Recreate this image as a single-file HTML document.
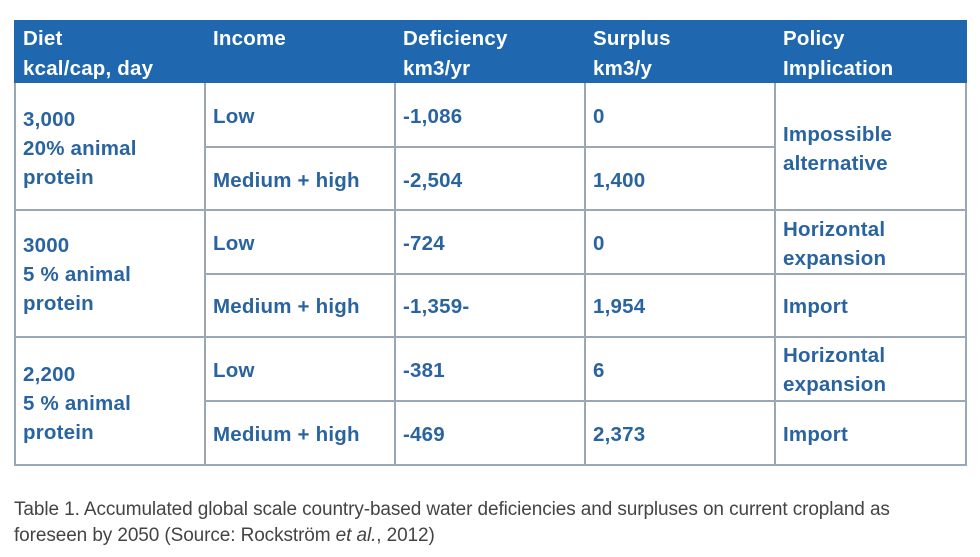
<!DOCTYPE html>
<html><head><style>
body{margin:0;width:980px;height:557px;background:#fff;font-family:"Liberation Sans",sans-serif;position:relative;overflow:hidden}
.hdr{position:absolute;left:14px;top:20px;width:953px;height:63px;background:#1f67ae}
.t{position:absolute;font-weight:bold;font-size:20.5px;line-height:29px;color:#2a64a0;letter-spacing:0.2px}
.h{color:#fff;line-height:30px}
.v{position:absolute;width:2px;background:#9aa8b5}
.hl{position:absolute;height:2px;background:#9aa8b5}
.cap{position:absolute;left:14px;top:497px;font-size:19px;line-height:26px;color:#444;letter-spacing:-0.1px}
</style></head><body>
<div class="hdr"></div>
<div class="v" style="left:14px;top:83px;height:383px"></div>
<div class="v" style="left:965px;top:83px;height:383px"></div>
<div class="v" style="left:204px;top:83px;height:383px"></div>
<div class="v" style="left:394px;top:83px;height:383px"></div>
<div class="v" style="left:584px;top:83px;height:383px"></div>
<div class="v" style="left:774px;top:83px;height:383px"></div>
<div class="hl" style="left:204px;top:146px;width:572px"></div>
<div class="hl" style="left:14px;top:209px;width:953px"></div>
<div class="hl" style="left:204px;top:273px;width:763px"></div>
<div class="hl" style="left:14px;top:336px;width:953px"></div>
<div class="hl" style="left:204px;top:400px;width:763px"></div>
<div class="hl" style="left:14px;top:464px;width:953px"></div>

<div class="t h" style="left:23px;top:24px">Diet<br>kcal/cap, day</div>
<div class="t h" style="left:213px;top:24px">Income</div>
<div class="t h" style="left:403px;top:24px">Deficiency<br>km3/yr</div>
<div class="t h" style="left:593px;top:24px">Surplus<br>km3/y</div>
<div class="t h" style="left:783px;top:24px">Policy<br>Implication</div>

<div class="t" style="left:23px;top:105px">3,000<br>20% animal<br>protein</div>
<div class="t" style="left:213px;top:102px">Low</div>
<div class="t" style="left:403px;top:102px">-1,086</div>
<div class="t" style="left:593px;top:102px">0</div>
<div class="t" style="left:783px;top:120px">Impossible<br>alternative</div>
<div class="t" style="left:213px;top:166px">Medium + high</div>
<div class="t" style="left:403px;top:166px">-2,504</div>
<div class="t" style="left:593px;top:166px">1,400</div>

<div class="t" style="left:23px;top:231px">3000<br>5 % animal<br>protein</div>
<div class="t" style="left:213px;top:229px">Low</div>
<div class="t" style="left:403px;top:229px">-724</div>
<div class="t" style="left:593px;top:229px">0</div>
<div class="t" style="left:783px;top:215px">Horizontal<br>expansion</div>
<div class="t" style="left:213px;top:292px">Medium + high</div>
<div class="t" style="left:403px;top:292px">-1,359-</div>
<div class="t" style="left:593px;top:292px">1,954</div>
<div class="t" style="left:783px;top:292px">Import</div>

<div class="t" style="left:23px;top:360px">2,200<br>5 % animal<br>protein</div>
<div class="t" style="left:213px;top:356px">Low</div>
<div class="t" style="left:403px;top:356px">-381</div>
<div class="t" style="left:593px;top:356px">6</div>
<div class="t" style="left:783px;top:341px">Horizontal<br>expansion</div>
<div class="t" style="left:213px;top:420px">Medium + high</div>
<div class="t" style="left:403px;top:420px">-469</div>
<div class="t" style="left:593px;top:420px">2,373</div>
<div class="t" style="left:783px;top:420px">Import</div>

<div class="cap">Table 1. Accumulated global scale country-based water deficiencies and surpluses on current cropland as<br>foreseen by 2050 (Source: Rockström <i>et al.</i>, 2012)</div>
</body></html>
